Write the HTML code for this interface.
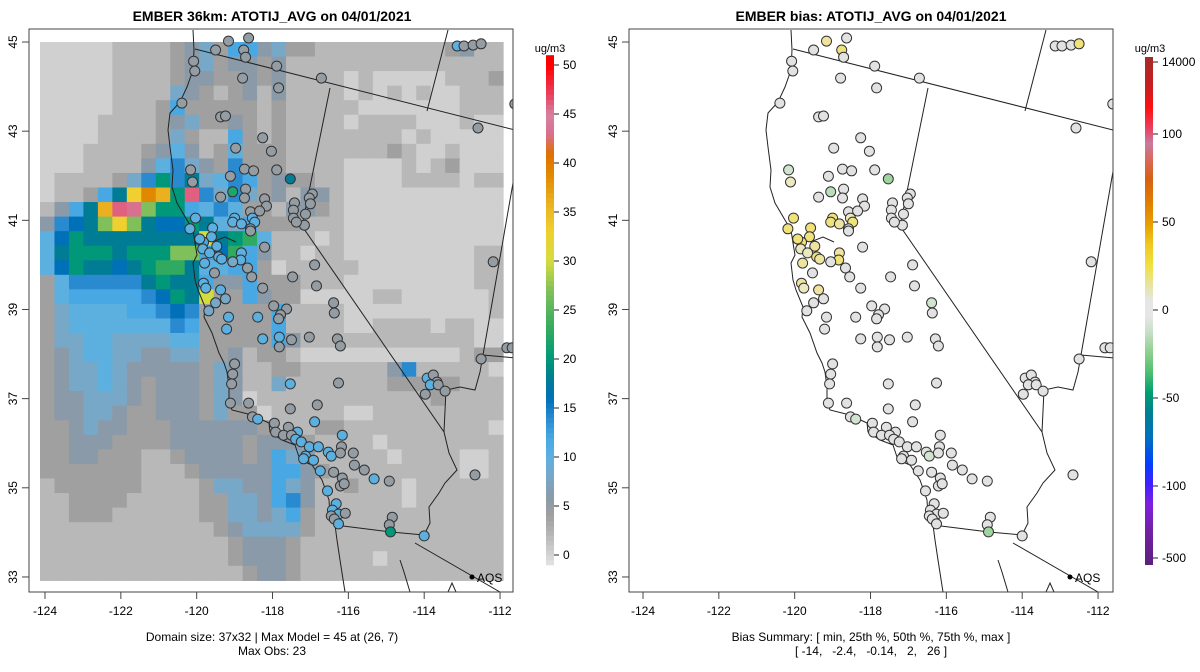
<!DOCTYPE html>
<html><head><meta charset="utf-8"><style>
html,body{margin:0;padding:0;background:#fff;}
svg{display:block;font-family:"Liberation Sans",Arial,sans-serif;}
</style></head><body>
<svg id="fig" width="1200" height="672" viewBox="0 0 1200 672" xmlns="http://www.w3.org/2000/svg">
<defs>
<clipPath id="clipL"><rect x="29" y="29" width="484" height="563"/></clipPath>
<clipPath id="clipR"><rect x="629" y="29" width="484" height="563"/></clipPath>
<linearGradient id="biasGrad" x1="0" y1="0" x2="0" y2="1">
<stop offset="0" stop-color="#a52a2a"/><stop offset="0.06" stop-color="#c81e1e"/><stop offset="0.1" stop-color="#ff1010"/><stop offset="0.14" stop-color="#e84060"/><stop offset="0.17" stop-color="#c87aa0"/><stop offset="0.2" stop-color="#d86a60"/><stop offset="0.24" stop-color="#d86010"/><stop offset="0.29" stop-color="#e08000"/><stop offset="0.33" stop-color="#e8a000"/><stop offset="0.37" stop-color="#f0c820"/><stop offset="0.41" stop-color="#f0e040"/><stop offset="0.45" stop-color="#e8e4a0"/><stop offset="0.48" stop-color="#e6e6e6"/><stop offset="0.51" stop-color="#e6e6e6"/><stop offset="0.54" stop-color="#c8e0c8"/><stop offset="0.58" stop-color="#90d090"/><stop offset="0.62" stop-color="#50c070"/><stop offset="0.66" stop-color="#00a070"/><stop offset="0.7" stop-color="#008090"/><stop offset="0.75" stop-color="#0070c0"/><stop offset="0.8" stop-color="#0040ff"/><stop offset="0.84" stop-color="#4020ff"/><stop offset="0.88" stop-color="#8020e0"/><stop offset="0.94" stop-color="#7020a0"/><stop offset="1" stop-color="#5a2080"/>
</linearGradient>
</defs>
<text x="272" y="21" text-anchor="middle" font-size="14" font-weight="bold">EMBER 36km: ATOTIJ_AVG on 04/01/2021</text>
<text x="871" y="21" text-anchor="middle" font-size="14" font-weight="bold">EMBER bias: ATOTIJ_AVG on 04/01/2021</text>
<text x="272" y="641" text-anchor="middle" font-size="12">Domain size: 37x32 | Max Model = 45 at (26, 7)</text>
<text x="272" y="655" text-anchor="middle" font-size="12">Max Obs: 23</text>
<text x="871" y="641" text-anchor="middle" font-size="12">Bias Summary: [ min, 25th %, 50th %, 75th %, max ]</text>
<text x="871" y="655" text-anchor="middle" font-size="12" xml:space="preserve">[ -14,   -2.4,   -0.14,   2,   26 ]</text>
<g id="gL" clip-path="url(#clipL)"></g>
<g id="gR" clip-path="url(#clipR)"></g>
<g id="axes"></g>
</svg>
<script>
// ---- data ----
const gridRows = [
"aaaaabbbbcdecggdeccbbbbbbbbbcdbb",
"aaaaabbbbcdecddcdbbbbbbbbbbbbbbb",
"aaaaabbbbcddccdcdbbbbabaaaaabbbc",
"aaaaabbbbedcbcdbdbbbbabababaabbb",
"aaaaabbbcgcccccbcbbbbbaaaaaaabbb",
"aaaabbbbcdeccdcbcbbbbabbbbaaabaa",
"aaaabbbbcecbbgcbcbbbbbbbbabaaaaa",
"aaabbbbcdfdbcfcccbbbbbbbcbaabaaa",
"aaabbbbdfhedchcccbbbbaaaababcaaa",
"abbbbcehkhjefhgcdccbbaaaabbbbabb",
"abbcgjoqpkshehecdbddbaaaaaaaaaaa",
"bdgjpsrmkkgfhfccbddcbaaaaaaaaaaa",
"dhijmomjiikjfegcccbbbaaaaaaaaaaa",
"fikjjjjjjjjnjklfbbbabaaaaaaaaaaa",
"fjkkkjkkkmmgilgdbbabbaaaaaaaaabb",
"fikjjijklljffggcabbbbbaaaaaaaabb",
"cfhhhhhjkjjgddgcccbbbaaaaaaaaabb",
"cfggggghikjnccgdccaaaaabbaaaaaab",
"ceffffgghihcccccgbbbbaaaaaaaaaab",
"cefffffffhgcccccgbbbbaabbbbabbaa",
"ceeffeeeeffcccccgdbbbbbbbbbbbbaa",
"cdeffeeddeeccdbccbaaaaaaaaaaabcc",
"cdeefedddddcedbbccbbbbbbdhbbbbba",
"cdeefedcdddcedbbebbbbbbbcccccbbb",
"cddeeedcdddcedabbbbbbbbbbbbcbbbb",
"cddeedccdddceccabbbbbaabbbbbbbbb",
"ccdeddcccddddddcbbbccbbbbbbbbbba",
"ccdddccccdddddcdddcbbbbabbbbbbbb",
"ccddcccbbcddddcdgedbbbbbabbbbaab",
"cccccccbbbcdddddggdcbbbbbbbbbaab",
"bccccccbbbbceeddgedbbcbbbabbbbbb",
"bbccccbbbbbcceedghdbbbbbbabbbbbb",
"bbcccbbbbbbcceedegcbbbbbbbbbbbbb",
"bbbbbbbbbbbbcdeeeecbbbbbbbbbbbbb",
"bbbbbbbbbbbbbcdddcbbbbbbbbbbbbbb",
"bbbbbbbbbbbbbcdddcbbbbbabbbbbbbb",
"bbbbbbbbbbbbbbcddcbbbbbbbbbbbbbb"
];
const levelCodes = "abcdefghijklmnopqrs";
const levelValues = [0.3,2,4,6,8,10,12,14,16,18,20,23,27,30,33,36,39,43,46];
const stLon = [-119.16,-118.63,-119.50,-118.76,-118.71,-120.08,-120.05,-117.89,-116.71,-118.79,-117.84,-120.39,-119.37,-119.24,-118.26,-118.97,-118.03,-120.16,-120.11,-118.74,-118.50,-117.89,-117.53,-119.11,-119.05,-118.71,-118.74,-119.37,-118.21,-118.16,-117.42,-117.45,-116.95,-117.03,-117.00,-117.13,-117.16,-117.45,-117.37,-118.58,-118.34,-120.03,-120.18,-119.58,-119.00,-119.05,-118.82,-118.53,-118.47,-118.58,-119.61,-119.82,-119.92,-119.47,-119.84,-119.66,-119.42,-119.34,-119.79,-118.82,-118.84,-119.05,-118.58,-118.21,-116.89,-119.53,-118.66,-118.55,-117.47,-116.84,-118.26,-119.82,-119.76,-119.37,-119.24,-119.50,-119.68,-116.39,-116.37,-117.97,-117.63,-117.79,-117.84,-119.16,-118.39,-119.21,-118.26,-117.82,-117.50,-117.03,-116.29,-116.21,-117.82,-119.00,-119.05,-119.08,-117.53,-116.26,-119.11,-118.63,-117.53,-116.82,-118.53,-118.39,-117.95,-117.92,-117.58,-117.34,-117.71,-117.50,-117.39,-117.24,-116.89,-116.16,-117.03,-116.79,-117.13,-117.18,-116.92,-116.53,-116.45,-116.18,-116.21,-115.87,-115.84,-115.58,-116.74,-116.39,-116.16,-116.21,-116.11,-115.32,-114.92,-116.55,-116.32,-116.42,-116.26,-116.08,-116.45,-116.37,-116.26,-114.84,-114.92,-114.89,-114.00,-112.66,-113.92,-113.76,-113.66,-113.84,-113.63,-113.97,-113.45,-112.50,-111.82,-111.68,-112.18,-112.58,-111.61,-113.13,-112.95,-112.71,-112.50];
const stLat = [45.02,45.09,44.82,44.82,44.66,44.57,44.35,44.46,44.19,44.19,43.97,43.63,43.32,43.34,42.85,42.62,42.55,42.13,41.86,42.15,42.11,42.13,41.93,41.99,41.64,41.70,41.50,41.52,41.48,41.32,41.39,41.23,41.59,41.50,41.37,41.14,40.89,41.05,40.96,41.19,41.21,41.05,40.81,40.83,41.05,40.96,40.92,41.05,40.96,40.81,40.63,40.51,40.58,40.42,40.36,40.27,40.18,40.13,40.04,40.27,40.11,40.07,40.76,40.40,40.00,39.82,39.93,39.73,39.73,39.53,39.48,39.59,39.48,39.44,39.24,39.15,38.97,39.15,38.92,39.08,39.01,38.88,38.79,38.83,38.83,38.56,38.34,38.38,38.32,38.38,38.34,38.18,38.16,37.78,37.55,37.33,37.33,37.35,36.90,36.90,36.77,36.86,36.59,36.54,36.45,36.25,36.36,36.25,36.18,36.18,36.09,36.03,36.48,36.18,35.92,35.92,35.71,35.65,35.62,35.80,35.71,35.92,35.78,35.78,35.51,35.40,35.38,35.35,35.22,35.04,35.09,35.20,35.15,34.93,34.64,34.50,34.41,34.43,34.37,34.30,34.19,34.34,34.17,34.01,33.92,35.29,37.46,37.53,37.37,37.31,37.31,37.10,37.17,37.89,38.14,38.14,40.07,43.07,43.61,44.91,44.91,44.93,44.96];
const stObs = [5,5,5,5,5,5,5,5,5,5,5,5,5,5,5,5,5,5,5,5,5,5,18,5,22,5,5,5,5,5,5,5,5,5,5,5,5,5,5,5,5,10,10,10,10,10,10,10,10,10,10,12,10,10,10,10,10,10,10,10,10,8,5,5,5,5,5,5,5,5,5,10,10,10,8,8,8,5,5,5,5,5,5,10,10,10,10,10,5,5,5,5,5,5,5,5,10,5,5,5,5,5,5,10,5,5,5,10,5,5,10,10,10,10,10,10,10,10,10,10,10,5,5,5,5,5,10,5,5,5,5,10,5,10,10,10,10,5,5,5,10,5,5,20,10,5,10,5,5,10,5,5,5,5,5,5,5,5,5,10,5,5,5];
const stBias = [10,0,0,20,0,0,0,0,0,0,0,0,0,0,0,0,0,-8,8,0,0,0,-20,0,-10,0,0,0,0,0,0,0,0,0,0,0,0,0,0,0,0,20,22,20,22,20,10,5,18,0,24,26,22,12,8,8,20,10,10,12,20,0,0,0,0,0,0,0,0,0,0,10,8,15,0,0,0,-6,0,0,0,0,0,0,0,0,0,0,0,0,0,0,0,0,0,0,0,0,0,0,0,0,0,-6,0,0,0,0,0,0,0,0,0,0,0,0,0,0,0,0,-5,0,0,0,0,0,0,0,0,0,0,-3,0,0,0,0,0,0,0,0,0,0,0,-20,0,0,0,0,0,0,0,0,0,0,0,0,0,0,0,0,0,0];
const lonTicks = [-124,-122,-120,-118,-116,-114,-112];
const latTicks = [33,35,37,39,41,43,45];
const obsBarTicks = [0,5,10,15,20,25,30,35,40,45,50];
const biasBarLabels = ["14000","100","50","0","-50","-100","-500"];

// ---- scales ----
const NS="http://www.w3.org/2000/svg";
const obsStops=[[-1,"#e4e4e4"],[0,"#d4d4d4"],[2,"#b8b8b8"],[4,"#a0a0a0"],[6,"#8a9aa8"],[8,"#78a8c8"],[10,"#5cb0e0"],[12,"#48a8e4"],[14,"#2a8ad0"],[16,"#0070b8"],[18,"#007c95"],[20,"#009878"],[23,"#30aa60"],[27,"#80c05a"],[30,"#d2dc40"],[33,"#f0d030"],[36,"#eab020"],[39,"#e08800"],[41,"#e07000"],[43,"#d87090"],[45,"#d880a0"],[47,"#e84060"],[50,"#ff0000"],[52,"#ff0000"]];
function hex(c){return [1,3,5].map(i=>parseInt(c.substr(i,2),16));}
function obsColor(v){
  for(let i=0;i<obsStops.length-1;i++){
    const a=obsStops[i],b=obsStops[i+1];
    if(v<=b[0]){const t=Math.max(0,(v-a[0])/(b[0]-a[0]));const ca=hex(a[1]),cb=hex(b[1]);
      return "rgb("+ca.map((x,k)=>Math.round(x+(cb[k]-x)*t)).join(",")+")";}
  }
  return "#ff0000";
}
function biasColor(v){
  if(v<=-18) return "#9fd49f"; if(v<=-9) return "#bcdcbc"; if(v<=-4) return "#d0e4d0";
  if(v<4) return "#e2e2e2"; if(v<9) return "#ece8c0"; if(v<18) return "#eee4a0"; return "#efe27a";
}
function xS(lon,off){return off+45+(lon+124)*37.92;}
function yS(lat){return 42+(45-lat)*44.58;}
function mk(tag,attrs,parent){const e=document.createElementNS(NS,tag);for(const k in attrs)e.setAttribute(k,attrs[k]);parent.appendChild(e);return e;}

const gL=document.getElementById("gL"), gR=document.getElementById("gR"), ax=document.getElementById("axes");

// ---- grid (left) ----
const cw=14.47, ch=14.55;
gridRows.forEach((row,r)=>{
  for(let c=0;c<row.length;c++){
    const v=levelValues[levelCodes.indexOf(row[c])];
    const e=mk("rect",{x:(40+c*cw).toFixed(2),y:(42+r*ch).toFixed(2),width:(cw+0.6).toFixed(2),height:(ch+0.6).toFixed(2),fill:obsColor(v)},gL);
    
    
  }
});

// ---- map lines ----
const mapPaths=[
 "M193,30 L194,50 193,70 187,87 180,102 170,113 168,130 170,147 173,170 172,187 177,203 187,220 193,230 195,243 197,255 193,263 195,280 198,290 205,307 204,317 212,333 219,353 224,363 227,372 229,387 229,403 232,410 252,415 269,423 270,432 282,440 295,445 300,460 312,465 322,480 329,500 330,515 335,525 337,540 340,560 345,592",
 "M195,243 L205,238 215,241 225,237 236,242",
 "M195,49 L515,130",
 "M448,30 L427,111",
 "M330,88 L302,226 L444,432 L449,453 457,470 445,483 439,493 429,507 430,523 424,535",
 "M444,432 L446,390 460,387 475,390 480,372 483,355 L517,160",
 "M483,355 L516,358",
 "M335,525 L391,532 L424,535",
 "M415,543 L500,592",
 "M400,560 L404,572 410,592",
 "M448,592 L452,583 456,592"
];
[[gL,0],[gR,598]].forEach(([g,off])=>{
  mapPaths.forEach(d=>{
    const p=mk("path",{d:d,fill:"none",stroke:"#222","stroke-width":"1",transform:"translate("+off+",0)"},g);
    
    
  });
});

// ---- stations ----
for(let i=0;i<stLon.length;i++){
  const cx=xS(stLon[i],0), cy=yS(stLat[i]);
  const a=mk("circle",{cx:cx.toFixed(1),cy:cy.toFixed(1),r:"5",fill:obsColor(stObs[i]),stroke:"#333","stroke-width":"1"},gL);
  
  
  const b=mk("circle",{cx:(cx+598).toFixed(1),cy:cy.toFixed(1),r:"5",fill:biasColor(stBias[i]),stroke:"#333","stroke-width":"1"},gR);
  
  
}

// ---- AQS legend ----
[0,598].forEach(off=>{
  const d=mk("circle",{cx:472+off,cy:577,r:2.5,fill:"#000"},ax);
  
  
  const t=mk("text",{x:477+off,y:582,"font-size":"12"},ax); t.textContent="AQS";
  
  
});

// ---- frames and axes ----
[0,600].forEach((off,pi)=>{
  const f=mk("rect",{x:29+off,y:29,width:484,height:563,fill:"none",stroke:"#444","stroke-width":"1"},ax);
  
  
  lonTicks.forEach(l=>{
    const x=xS(l,off-2*pi);
    const t=mk("line",{x1:x,y1:592,x2:x,y2:599,stroke:"#444"},ax);
    
    
    const tx=mk("text",{x:x,y:615,"text-anchor":"middle","font-size":"12"},ax); tx.textContent=String(l);
    
    
  });
  latTicks.forEach(l=>{
    const y=yS(l);
    const t=mk("line",{x1:29+off,y1:y,x2:22+off,y2:y,stroke:"#444"},ax);
    
    
    const tx=mk("text",{x:0,y:0,"text-anchor":"middle","font-size":"12",transform:"translate("+(17+off)+","+y+") rotate(-90)"},ax); tx.textContent=String(l);
    
    
  });
});

// ---- obs colorbar ----
function cbY(v){return 555-v*9.8;}
for(let v=-1;v<51;v+=0.5){
  const r=mk("rect",{x:546,y:cbY(v+0.5).toFixed(2),width:8,height:5.4,fill:obsColor(v+0.25)},ax);
  
  
}
obsBarTicks.forEach(v=>{
  const t=mk("line",{x1:554,y1:cbY(v),x2:559,y2:cbY(v),stroke:"#222"},ax);
  
  
  const tx=mk("text",{x:563,y:cbY(v)+4,"font-size":"12"},ax); tx.textContent=String(v);
  
  
});
const u1=mk("text",{x:550,y:52,"text-anchor":"middle","font-size":"11"},ax); u1.textContent="ug/m3";



// ---- bias colorbar ----
const bb=mk("rect",{x:1145,y:57,width:8,height:508,fill:"url(#biasGrad)"},ax);


const biasLabelY=[62,134,222,310,398,486,558];
biasBarLabels.forEach((s,i)=>{
  const y=biasLabelY[i];
  const t=mk("line",{x1:1153,y1:y,x2:1158,y2:y,stroke:"#222"},ax);
  
  
  const tx=mk("text",{x:1162,y:y+4,"font-size":"12"},ax); tx.textContent=s;
  
  
});
const u2=mk("text",{x:1150,y:52,"text-anchor":"middle","font-size":"11"},ax); u2.textContent="ug/m3";


</script>
</body></html>
